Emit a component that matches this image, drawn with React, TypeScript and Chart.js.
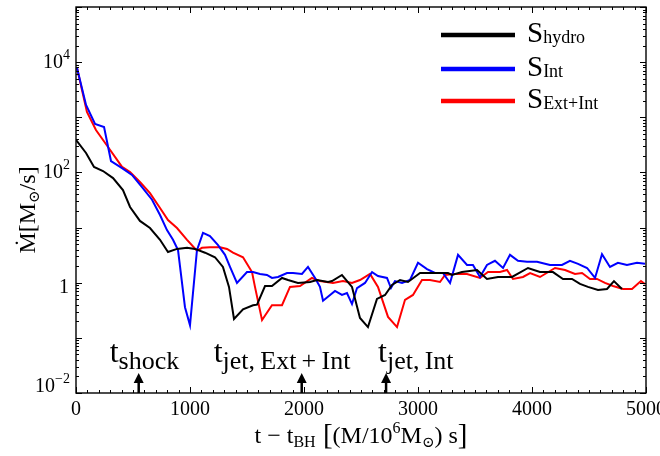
import React, { useEffect, useRef } from "react";
import { Chart, registerables } from "chart.js";

Chart.register(...registerables);

// ---- data ----
const hydroT = [0, 88, 158, 237, 325, 412, 474, 561, 649, 737, 807, 886, 974, 1044, 1132, 1219, 1289, 1342, 1386, 1465, 1553, 1588, 1658, 1719, 1807, 1860, 1947, 2053, 2114, 2211, 2246, 2333, 2421, 2491, 2561, 2640, 2711, 2772, 2842, 2912, 3018, 3149, 3263, 3298, 3386, 3518, 3605, 3702, 3825, 3965, 4070, 4184, 4272, 4351, 4421, 4491, 4579, 4658, 4719, 4789];
const hydroMdot = [390, 225, 126, 106, 79, 48, 23.6, 13.2, 9.8, 6.0, 3.6, 4.1, 4.3, 4.1, 3.5, 2.9, 1.93, 0.84, 0.22, 0.33, 0.39, 0.40, 0.87, 0.87, 1.22, 1.12, 0.99, 1.03, 1.12, 1.03, 1.07, 1.38, 0.84, 0.23, 0.157, 0.51, 0.60, 0.91, 1.12, 1.03, 1.50, 1.50, 1.50, 1.38, 1.56, 1.70, 1.17, 1.27, 1.27, 1.85, 1.56, 1.56, 1.17, 1.17, 0.95, 0.84, 0.74, 0.77, 1.07, 0.77];

const intT = [9, 88, 167, 246, 307, 404, 491, 579, 667, 737, 798, 851, 895, 956, 1000, 1061, 1114, 1175, 1246, 1307, 1351, 1412, 1500, 1553, 1614, 1675, 1719, 1772, 1851, 1904, 1982, 2035, 2097, 2140, 2167, 2272, 2333, 2377, 2421, 2465, 2535, 2597, 2649, 2728, 2763, 2798, 2860, 2930, 3000, 3079, 3149, 3219, 3281, 3351, 3430, 3482, 3544, 3605, 3675, 3746, 3807, 3877, 3956, 4044, 4158, 4263, 4333, 4404, 4483, 4553, 4614, 4684, 4754, 4833, 4921, 4991];
const intMdot = [7800, 1670, 755, 667, 161, 120, 90, 54, 32, 16.9, 9.0, 6.0, 3.9, 0.36, 0.17, 3.9, 8.0, 7.0, 4.8, 3.2, 1.93, 0.99, 1.56, 1.56, 1.44, 1.38, 1.22, 1.27, 1.50, 1.50, 1.44, 1.93, 1.22, 0.84, 0.47, 0.71, 0.60, 0.65, 0.41, 0.80, 0.99, 1.56, 1.32, 1.22, 0.80, 1.07, 0.99, 1.12, 2.3, 1.77, 1.50, 1.50, 0.99, 3.2, 2.1, 2.1, 1.27, 2.1, 2.5, 1.85, 3.2, 2.5, 2.4, 2.4, 2.1, 2.1, 2.5, 2.2, 1.85, 1.22, 3.3, 1.93, 2.3, 2.1, 2.3, 2.2];

const extIntT = [9, 96, 175, 281, 404, 474, 561, 649, 737, 807, 886, 974, 1061, 1105, 1175, 1263, 1325, 1377, 1465, 1544, 1570, 1632, 1719, 1807, 1877, 1965, 2070, 2140, 2254, 2342, 2421, 2491, 2579, 2649, 2737, 2816, 2886, 2956, 3035, 3105, 3193, 3237, 3307, 3430, 3544, 3614, 3719, 3781, 3833, 3921, 3983, 4070, 4158, 4202, 4290, 4377, 4439, 4509, 4570, 4640, 4711, 4798, 4877, 4956, 4991];
const extIntMdot = [7800, 1250, 589, 289, 126, 102, 67, 42, 22.6, 13.7, 9.8, 6.0, 3.8, 4.3, 4.4, 4.4, 4.1, 3.5, 2.9, 1.56, 0.84, 0.21, 0.39, 0.39, 0.84, 0.87, 1.22, 1.07, 0.99, 1.07, 0.99, 1.12, 1.44, 0.84, 0.24, 0.157, 0.49, 0.60, 1.12, 1.12, 1.03, 1.38, 1.44, 1.44, 1.22, 1.56, 1.56, 1.70, 1.17, 1.27, 1.50, 1.27, 1.63, 1.85, 1.70, 1.44, 1.50, 1.17, 1.17, 0.99, 0.87, 0.77, 0.77, 1.07, 0.95];

const seriesSubs = ["hydro", "Int", "Ext+Int"];
const seriesColors = ["#000000", "#0000ff", "#ff0000"];

const xTickValues = [0, 1000, 2000, 3000, 4000, 5000];
const xTickLabels = ["0", "1000", "2000", "3000", "4000", "5000"];
const yTickValues = [0.01, 1, 100, 10000];
const yTickBase = ["10", "1", "10", "10"];
const yTickExp = ["\u22122", "", "2", "4"];

const markerTimes = [550, 1980, 2720];
const markerSubs = ["shock", "jet,\u2009Ext\u2009+\u2009Int", "jet,\u2009Int"];

const X_MIN = 0, X_MAX = 5000, Y_MIN = 0.01, Y_MAX = 1e5;

const FONT = '"Liberation Serif", "Times New Roman", "DejaVu Serif", serif';

type Part = { t: string; s: number; dy?: number; w?: number };

function drawParts(ctx: CanvasRenderingContext2D, x: number, y: number, parts: Part[], align: "left" | "center" | "right") {
  let total = 0;
  for (const p of parts) {
    ctx.font = `${p.s}px ${FONT}`;
    p.w = ctx.measureText(p.t).width;
    total += p.w;
  }
  let cx = align === "right" ? x - total : align === "center" ? x - total / 2 : x;
  ctx.textAlign = "left";
  ctx.textBaseline = "alphabetic";
  for (const p of parts) {
    ctx.font = `${p.s}px ${FONT}`;
    ctx.fillText(p.t, cx, y + (p.dy || 0));
    cx += p.w || 0;
  }
  return total;
}

const decorPlugin = {
  id: "decor",
  afterDatasetsDraw(chart: any) {
    const ctx: CanvasRenderingContext2D = chart.ctx;
    const xs = chart.scales.x;
    const ys = chart.scales.y;
    const { left, right, top, bottom } = chart.chartArea;
    ctx.save();
    ctx.fillStyle = "#000";
    ctx.strokeStyle = "#000";

    // frame
    ctx.lineWidth = 1.4;
    ctx.strokeRect(left, top, right - left, bottom - top);

    // ticks
    ctx.lineWidth = 1;
    const line = (x1: number, y1: number, x2: number, y2: number) => {
      ctx.beginPath();
      ctx.moveTo(x1, y1);
      ctx.lineTo(x2, y2);
      ctx.stroke();
    };
    for (let v = X_MIN; v <= X_MAX; v += 100) {
      const px = Math.round(xs.getPixelForValue(v)) + 0.5;
      const L = v % 1000 === 0 ? 6 : 3;
      line(px, bottom, px, bottom - L);
      line(px, top, px, top + L);
    }
    for (let e = -2; e <= 5; e++) {
      for (let m = 1; m <= 9; m++) {
        const v = m * Math.pow(10, e);
        if (v < Y_MIN * 0.999 || v > Y_MAX * 1.001) continue;
        const py = Math.round(ys.getPixelForValue(v)) + 0.5;
        const L = m === 1 ? 6 : 3;
        line(left, py, left + L, py);
        line(right, py, right - L, py);
      }
    }

    // x tick labels
    xTickValues.forEach((v, i) => {
      const px = xs.getPixelForValue(v);
      drawParts(ctx, px, bottom + 22, [{ t: xTickLabels[i], s: 20 }], "center");
    });

    // y tick labels
    yTickValues.forEach((v, i) => {
      const py = ys.getPixelForValue(v);
      const exp = yTickExp[i];
      if (exp) {
        const off = v < 1 ? -1 : 6;
        drawParts(ctx, 70, py + off, [{ t: yTickBase[i], s: 20 }, { t: exp, s: 14, dy: -9 }], "right");
      } else {
        drawParts(ctx, 69, py + 10, [{ t: yTickBase[i], s: 20 }], "right");
      }
    });

    // x title
    drawParts(
      ctx,
      (left + right) / 2,
      bottom + 50,
      [
        { t: "t \u2212 t", s: 24 },
        { t: "BH", s: 16, dy: 4 },
        { t: " [", s: 29, dy: 1 },
        { t: "(M/10", s: 24 },
        { t: "6", s: 16, dy: -10 },
        { t: "M", s: 24 },
        { t: "\u2299", s: 15, dy: 4 },
        { t: ") s", s: 24 },
        { t: "]", s: 29, dy: 1 },
      ],
      "center"
    );

    // y title
    ctx.save();
    ctx.translate(35, 210);
    ctx.rotate(-Math.PI / 2);
    drawParts(
      ctx,
      0,
      0,
      [
        { t: "\u1E40[M", s: 24 },
        { t: "\u2299", s: 15, dy: 4 },
        { t: "/s]", s: 24 },
      ],
      "center"
    );
    ctx.restore();

    // markers: arrows + labels
    const textDx = [-29, -88, -8];
    markerTimes.forEach((t, i) => {
      const px = xs.getPixelForValue(t);
      ctx.lineWidth = 2.5;
      line(px, bottom, px, bottom - 12);
      ctx.beginPath();
      ctx.moveTo(px, bottom - 20);
      ctx.lineTo(px - 5, bottom - 10);
      ctx.lineTo(px + 5, bottom - 10);
      ctx.closePath();
      ctx.fill();
      drawParts(ctx, px + textDx[i], bottom - 31, [{ t: "t", s: 32 }, { t: markerSubs[i], s: 26, dy: 7 }], "left");
    });

    // legend
    const legY = [35, 69, 101];
    seriesSubs.forEach((sub, i) => {
      ctx.strokeStyle = seriesColors[i];
      ctx.lineWidth = 4.5;
      line(441, legY[i], 515, legY[i]);
      ctx.fillStyle = "#000";
      drawParts(ctx, 527, legY[i] + 7, [{ t: "S", s: 29 }, { t: sub, s: 18, dy: 1 }], "left");
    });

    ctx.restore();
  },
};

export default function App() {
  const ref = useRef<HTMLCanvasElement | null>(null);
  useEffect(() => {
    if (!ref.current) return;
    const mk = (ts: number[], vs: number[]) => ts.map((t, i) => ({ x: t, y: vs[i] }));
    const chart = new Chart(ref.current, {
      type: "line",
      data: {
        datasets: [
          { label: "hydro", data: mk(hydroT, hydroMdot), borderColor: seriesColors[0], borderWidth: 2, pointRadius: 0, tension: 0 },
          { label: "Int", data: mk(intT, intMdot), borderColor: seriesColors[1], borderWidth: 2, pointRadius: 0, tension: 0 },
          { label: "Ext+Int", data: mk(extIntT, extIntMdot), borderColor: seriesColors[2], borderWidth: 2, pointRadius: 0, tension: 0 },
        ],
      },
      options: {
        animation: false,
        responsive: true,
        maintainAspectRatio: false,
        layout: { padding: { left: 76, right: 14, top: 7, bottom: 63 } },
        plugins: { legend: { display: false }, tooltip: { enabled: false } },
        scales: {
          x: { type: "linear", min: X_MIN, max: X_MAX, display: false },
          y: { type: "logarithmic", min: Y_MIN, max: Y_MAX, display: false },
        },
      },
      plugins: [decorPlugin],
    });
    return () => chart.destroy();
  }, []);
  return (
    <div style={{ position: "fixed", left: 0, top: 0, width: 660, height: 456, background: "#fff" }}>
      <canvas ref={ref} />
    </div>
  );
}
